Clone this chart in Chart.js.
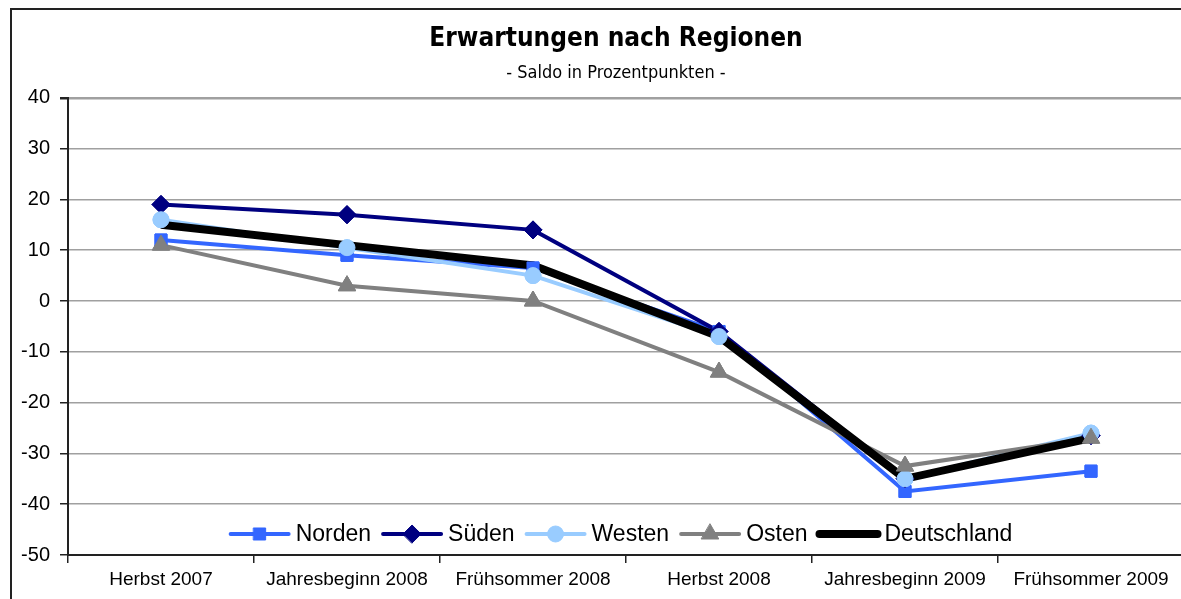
<!DOCTYPE html>
<html lang="de">
<head>
<meta charset="UTF-8">
<title>Erwartungen nach Regionen</title>
<script src="https://cdn.jsdelivr.net/npm/chart.js"></script>
<style>
    body { margin: 0; background: #fff; overflow: hidden; }
    .frame { position: absolute; left: 10px; top: 8px; width: 1208px; height: 600px; border: 2px solid #222; }
    canvas { display: block; }
</style>
</head>
<body>
<div class="frame"><canvas id="chart" width="1208" height="590"></canvas></div>
<script>
    // data
    const categories = ['Herbst 2007', 'Jahresbeginn 2008', 'Frühsommer 2008', 'Herbst 2008', 'Jahresbeginn 2009', 'Frühsommer 2009'];
    const norden      = [12, 9, 6.5, -6, -37.5, -33.5];
    const sueden      = [19, 17, 14, -6, -35, -26.5];
    const westen      = [16, 10.5, 5, -7, -35, -26];
    const osten       = [11, 3, 0, -14, -32.5, -27];
    const deutschland = [15, 11, 7, -7, -35, -27];
    const yTicks = { min: -50, max: 40, step: 10 };

    const font = '"Liberation Sans", Arial, sans-serif';
    const titleFont = '"DejaVu Sans Condensed", "DejaVu Sans", sans-serif';

    function series(label, data, color, width, style, radius, order) {
        return {
            label, data, order,
            borderColor: color, backgroundColor: color,
            borderWidth: width,
            pointStyle: style, pointRadius: radius, pointHoverRadius: radius,
            pointBorderWidth: 1, pointBorderColor: color, pointBackgroundColor: color,
            tension: 0
        };
    }

    // markers sit above every line (as in the original), so draw them again after the lines
    const markersOnTop = {
        id: 'markersOnTop',
        afterDatasetsDraw(chart) {
            const ctx = chart.ctx;
            chart.data.datasets.forEach((ds, i) => {
                if (!ds.pointRadius) return;
                const meta = chart.getDatasetMeta(i);
                meta.data.forEach(pt => pt.draw(ctx, chart.chartArea));
            });
        }
    };

    // legend drawn as line + marker, inside the plot like the original
    const lineLegend = {
        id: 'lineLegend',
        afterDraw(chart) {
            const ctx = chart.ctx;
            const lineLen = 64, gap = 4, spacing = 9;
            ctx.save();
            ctx.font = '23px ' + font;
            ctx.textBaseline = 'middle';
            const sets = chart.data.datasets;
            let total = 0;
            sets.forEach((ds, i) => { total += lineLen + gap + ctx.measureText(ds.label).width + (i ? spacing : 0); });
            let x = 608 - total / 2;
            const y = chart.chartArea.bottom - 21;
            sets.forEach(ds => {
                ctx.strokeStyle = ds.borderColor;
                ctx.fillStyle = ds.borderColor;
                ctx.lineWidth = ds.borderWidth;
                ctx.lineCap = 'round';
                ctx.beginPath();
                ctx.moveTo(x + 3, y);
                ctx.lineTo(x + lineLen - 3, y);
                ctx.stroke();
                if (ds.pointRadius > 0 && Chart.helpers && Chart.helpers.drawPoint) {
                    ctx.lineWidth = 1;
                    Chart.helpers.drawPoint(ctx, { pointStyle: ds.pointStyle, radius: ds.pointRadius, rotation: 0, borderWidth: 1 }, x + lineLen / 2, y);
                }
                ctx.fillStyle = '#000';
                ctx.fillText(ds.label, x + lineLen + gap, y + 1);
                x += lineLen + gap + ctx.measureText(ds.label).width + spacing;
            });
            ctx.restore();
        }
    };

    new Chart(document.getElementById('chart'), {
        type: 'line',
        data: {
            labels: categories,
            datasets: [
                series('Norden', norden, '#3366FF', 4, 'rect', 8.5, 4),
                series('Süden', sueden, '#000080', 4, 'rectRot', 9, 3),
                series('Westen', westen, '#99CCFF', 4, 'circle', 8, 2),
                series('Osten', osten, '#808080', 4, 'triangle', 10, 1),
                series('Deutschland', deutschland, '#000000', 8, false, 0, 0)
            ]
        },
        plugins: [markersOnTop, lineLegend],
        options: {
            responsive: false,
            animation: false,
            devicePixelRatio: 1,
            layout: { padding: 0 },
            plugins: {
                legend: { display: false },
                tooltip: { enabled: false },
                title: {
                    display: true,
                    text: 'Erwartungen nach Regionen',
                    color: '#000',
                    font: { family: titleFont, size: 26, weight: 'bold', lineHeight: 1.2 },
                    padding: { top: 14, bottom: 4 }
                },
                subtitle: {
                    display: true,
                    text: '- Saldo in Prozentpunkten -',
                    color: '#000',
                    font: { family: titleFont, size: 18, lineHeight: 1.2 },
                    padding: { top: 3, bottom: 14 }
                }
            },
            scales: {
                x: {
                    offset: true,
                    grid: { offset: true, drawOnChartArea: false, tickLength: 8, tickColor: '#222', lineWidth: 1.5 },
                    border: { color: '#222', width: 2 },
                    ticks: { color: '#000', font: { family: font, size: 19 }, padding: 5, maxRotation: 0, autoSkip: false },
                    afterFit(scale) { scale.height = 45; }
                },
                y: {
                    min: yTicks.min, max: yTicks.max,
                    grid: {
                        color: '#a0a0a0',
                        lineWidth: c => (c.tick && c.tick.value === yTicks.max ? 2.5 : 1.5),
                        tickLength: 8, tickColor: '#222'
                    },
                    border: { color: '#222', width: 2 },
                    ticks: { stepSize: yTicks.step, color: '#000', font: { family: font, size: 20 }, padding: 10 },
                    afterFit(scale) { scale.width = 56; }
                },
                // empty right-hand strip: the plot runs past the picture edge while the title stays centred
                yRight: {
                    position: 'right',
                    grid: { display: false },
                    border: { display: false },
                    ticks: { display: false },
                    afterFit(scale) { scale.width = 36; }
                }
            }
        }
    });
</script>
</body>
</html>
